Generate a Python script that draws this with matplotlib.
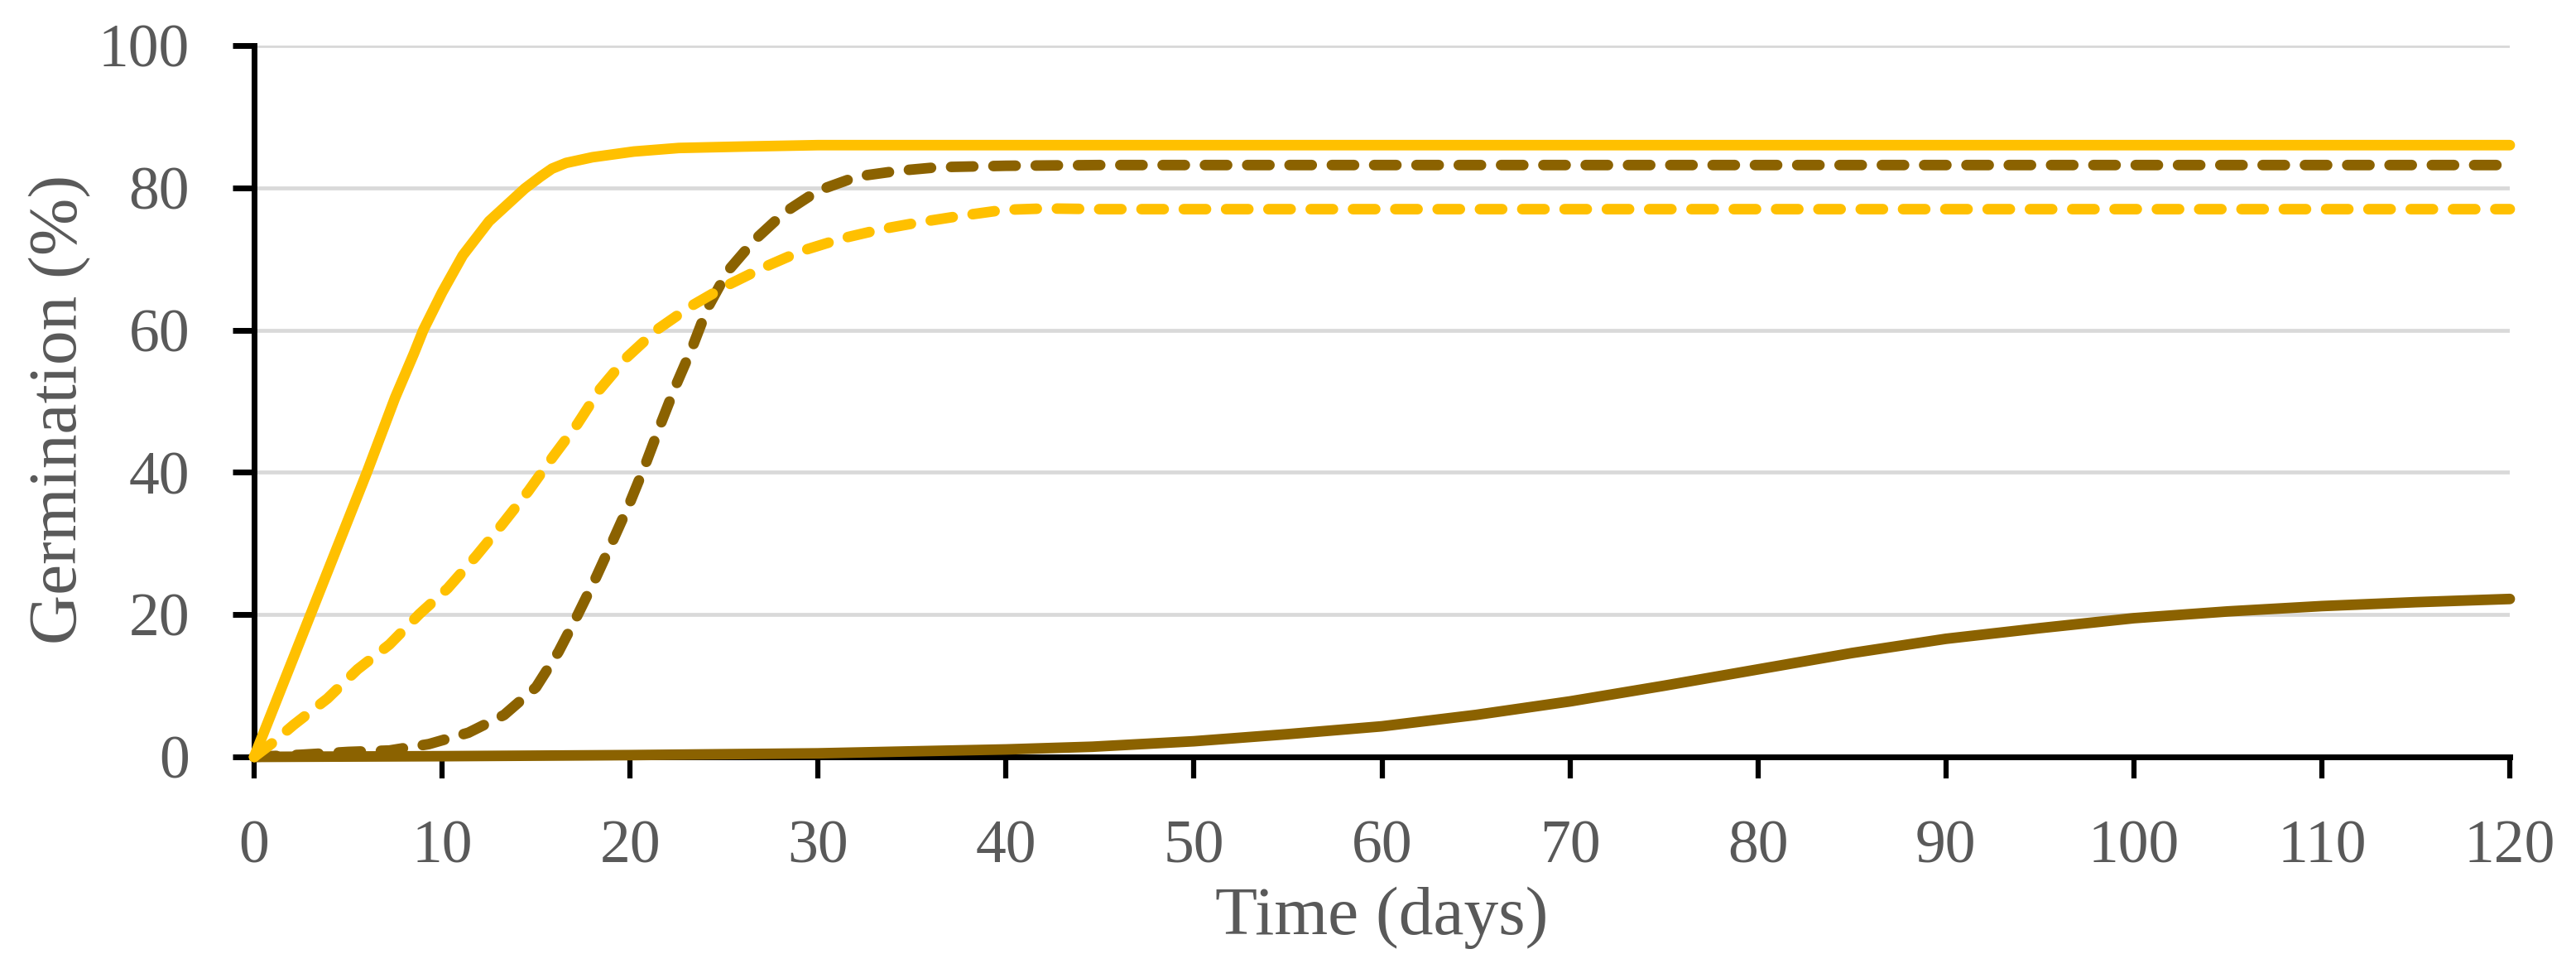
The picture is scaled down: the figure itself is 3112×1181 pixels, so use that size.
import matplotlib
matplotlib.use("Agg")
import matplotlib.pyplot as plt

# ---- data ----
gold_solid_days = [0, 3, 6, 7.5, 8.5, 9.0, 10.0, 11.1, 12.5, 14.4, 15.25, 15.85, 16.6, 18.0, 20.2, 22.6, 26, 30, 40, 50, 60, 70, 80, 90, 100, 110, 120]
gold_solid_vals = [0, 20, 40, 50.5, 56.7, 60, 65.3, 70.5, 75.3, 79.9, 81.6, 82.7, 83.5, 84.3, 85.1, 85.6, 85.8, 86.0, 86, 86, 86, 86, 86, 86, 86, 86, 86]

gold_dash_days = [0, 0.9, 2.1, 3.9, 5.5, 7.2, 8.8, 10.3, 11.8, 13.2, 14.6, 15.9, 17.2, 18.4, 19.8, 21.4, 23.2, 25.1, 27.1, 29.1, 31.3, 33.4, 35.5, 37.7, 39.9, 42.1, 45, 50, 60, 70, 80, 90, 100, 110, 120]
gold_dash_vals = [0, 1.8, 4.5, 8.2, 12.3, 15.8, 20.1, 23.7, 28.2, 32.7, 37.4, 42.2, 46.8, 51.7, 56.1, 60.0, 63.3, 66.2, 68.8, 71.1, 72.9, 74.2, 75.2, 76.1, 76.9, 77.1, 77.0, 77.0, 77.0, 77.0, 77.0, 77.0, 77.0, 77.0, 77.0]

brown_dash_days = [0, 2.5, 5, 7.2, 9.3, 11.4, 13.3, 15.0, 16.2, 17.2, 18.2, 19.1, 20.0, 20.8, 21.6, 22.4, 23.3, 24.1, 25.2, 26.6, 28.2, 30.0, 32.1, 34.3, 36.4, 40, 45, 50, 60, 70, 80, 90, 100, 110, 120]
brown_dash_vals = [0, 0.3, 0.7, 0.9, 1.8, 3.4, 5.9, 9.8, 14.8, 19.9, 25.3, 30.5, 35.8, 41.0, 46.6, 52.0, 57.5, 63.0, 68.3, 72.6, 76.5, 79.6, 81.6, 82.4, 82.9, 83.1, 83.2, 83.2, 83.2, 83.2, 83.2, 83.2, 83.2, 83.2, 83.2]

brown_solid_days = [0, 10, 20, 30, 35, 40, 44.6, 50, 55, 60, 65, 70, 75, 80, 85, 90, 95, 100, 105, 110, 115, 120]
brown_solid_vals = [0, 0.1, 0.25, 0.5, 0.78, 1.05, 1.43, 2.2, 3.2, 4.3, 5.9, 7.8, 10.0, 12.3, 14.6, 16.6, 18.1, 19.5, 20.45, 21.2, 21.75, 22.2]

x_ticks = [0, 10, 20, 30, 40, 50, 60, 70, 80, 90, 100, 110, 120]
y_ticks = [0, 20, 40, 60, 80, 100]

GOLD = "#FFC000"
BROWN = "#8B6200"
TXT = "#595959"
FONT = "Liberation Serif"

plt.rcParams["font.family"] = [FONT, "DejaVu Serif"]

W, H = 3112, 1181
fig = plt.figure(figsize=(W / 100, H / 100), dpi=100)
ax = fig.add_axes([307 / W, 1 - 914 / H, 2725 / W, 859 / H])

lw = 9.2
dash = (0, (2.1, 1.9))
ax.plot(brown_solid_days, brown_solid_vals, color=BROWN, lw=lw, solid_capstyle="round",
        solid_joinstyle="round", clip_on=False, zorder=3)
ax.plot(brown_dash_days, brown_dash_vals, color=BROWN, lw=lw, linestyle=dash,
        dash_capstyle="round", dash_joinstyle="round", clip_on=False, zorder=3.1)
ax.plot(gold_dash_days, gold_dash_vals, color=GOLD, lw=lw, linestyle=dash,
        dash_capstyle="round", dash_joinstyle="round", clip_on=False, zorder=3.2)
ax.plot(gold_solid_days, gold_solid_vals, color=GOLD, lw=lw, solid_capstyle="round",
        solid_joinstyle="round", clip_on=False, zorder=3.3)

ax.set_xlim(0, 120)
ax.set_ylim(0, 100)
ax.set_xticks(x_ticks)
ax.set_yticks(y_ticks)
ax.set_xticklabels([str(v) for v in x_ticks])
ax.set_yticklabels([str(v) for v in y_ticks])

ax.grid(axis="y", color="#D9D9D9", lw=3.4)
ax.grid(axis="x", visible=False)
ax.set_axisbelow(True)

for s in ["top", "right"]:
    ax.spines[s].set_visible(False)
for s in ["left", "bottom"]:
    ax.spines[s].set_linewidth(5)
    ax.spines[s].set_color("black")

ax.tick_params(axis="x", direction="out", length=19, width=4.5, color="black",
               labelsize=53, labelcolor=TXT, pad=36)
ax.tick_params(axis="y", direction="out", length=19, width=5, color="black",
               labelsize=53, labelcolor=TXT, pad=37)
for lab in ax.get_xticklabels() + ax.get_yticklabels():
    lab.set_fontfamily([FONT, "DejaVu Serif"])

fig.text(1669.5 / W, 1 - 1128 / H, "Time (days)", ha="center", va="baseline",
         fontsize=60, color=TXT, family=[FONT, "DejaVu Serif"])
fig.text(92 / W, 1 - 494 / H, "Germination (%)", ha="center", va="baseline",
         rotation=90, rotation_mode="anchor", fontsize=60, color=TXT,
         family=[FONT, "DejaVu Serif"])

fig.savefig("out.png", dpi=100, facecolor="white")
